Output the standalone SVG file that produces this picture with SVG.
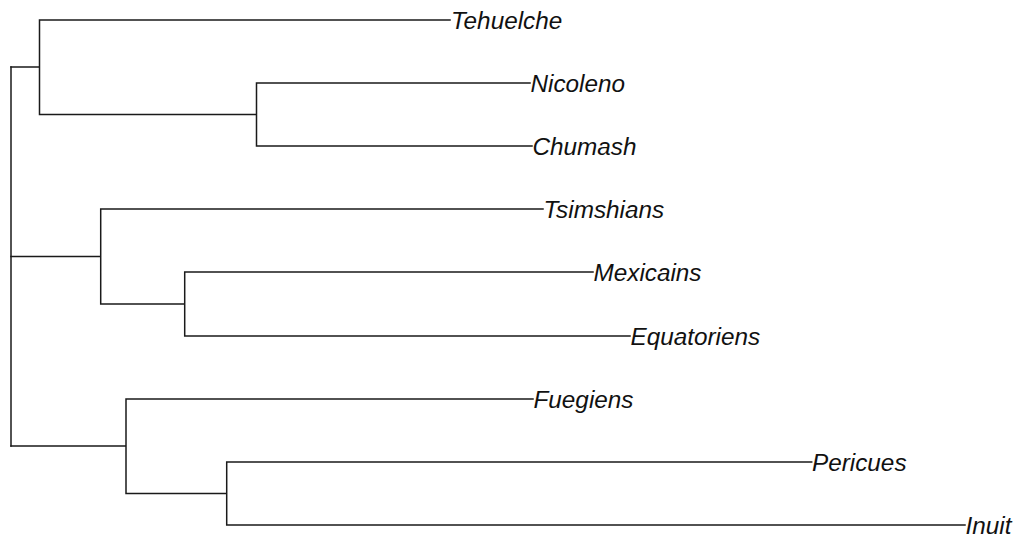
<svg xmlns="http://www.w3.org/2000/svg" width="1015" height="539" viewBox="0 0 1015 539">
<style>
.e{fill:none;stroke:#1a1a1a;stroke-width:1.5;stroke-linecap:square}
.t{font-family:"Liberation Sans",Arial,sans-serif;font-style:italic;font-size:24.3px;fill:#111}
</style>
<rect width="1015" height="539" fill="#fff"/>
<g id="connectors">
<path class="e" d="M11,67V446"/>
<path class="e" d="M11,67H39.5M39.5,20V114.5M39.5,20H450M39.5,114.5H256.5M256.5,83V146M256.5,83H530M256.5,146H532"/>
<path class="e" d="M11,256.5H100.7M100.7,209V304M100.7,209H543M100.7,304H184.7M184.7,272V336M184.7,272H593M184.7,336H630"/>
<path class="e" d="M11,446H126M126,399V493.5M126,399H533M126,493.5H226.7M226.7,462V525M226.7,462H811.7M226.7,525H965"/>
</g>
<g id="Tehuelche"><text class="t" x="451" y="29">Tehuelche</text></g>
<g id="Nicoleno"><text class="t" x="530.5" y="92">Nicoleno</text></g>
<g id="Chumash"><text class="t" x="532.5" y="155">Chumash</text></g>
<g id="Tsimshians"><text class="t" x="543.5" y="218">Tsimshians</text></g>
<g id="Mexicains"><text class="t" x="593.5" y="281">Mexicains</text></g>
<g id="Equatoriens"><text class="t" x="630.5" y="345">Equatoriens</text></g>
<g id="Fuegiens"><text class="t" x="533.5" y="408">Fuegiens</text></g>
<g id="Pericues"><text class="t" x="812" y="471">Pericues</text></g>
<g id="Inuit"><text class="t" x="965.5" y="534">Inuit</text></g>
</svg>
